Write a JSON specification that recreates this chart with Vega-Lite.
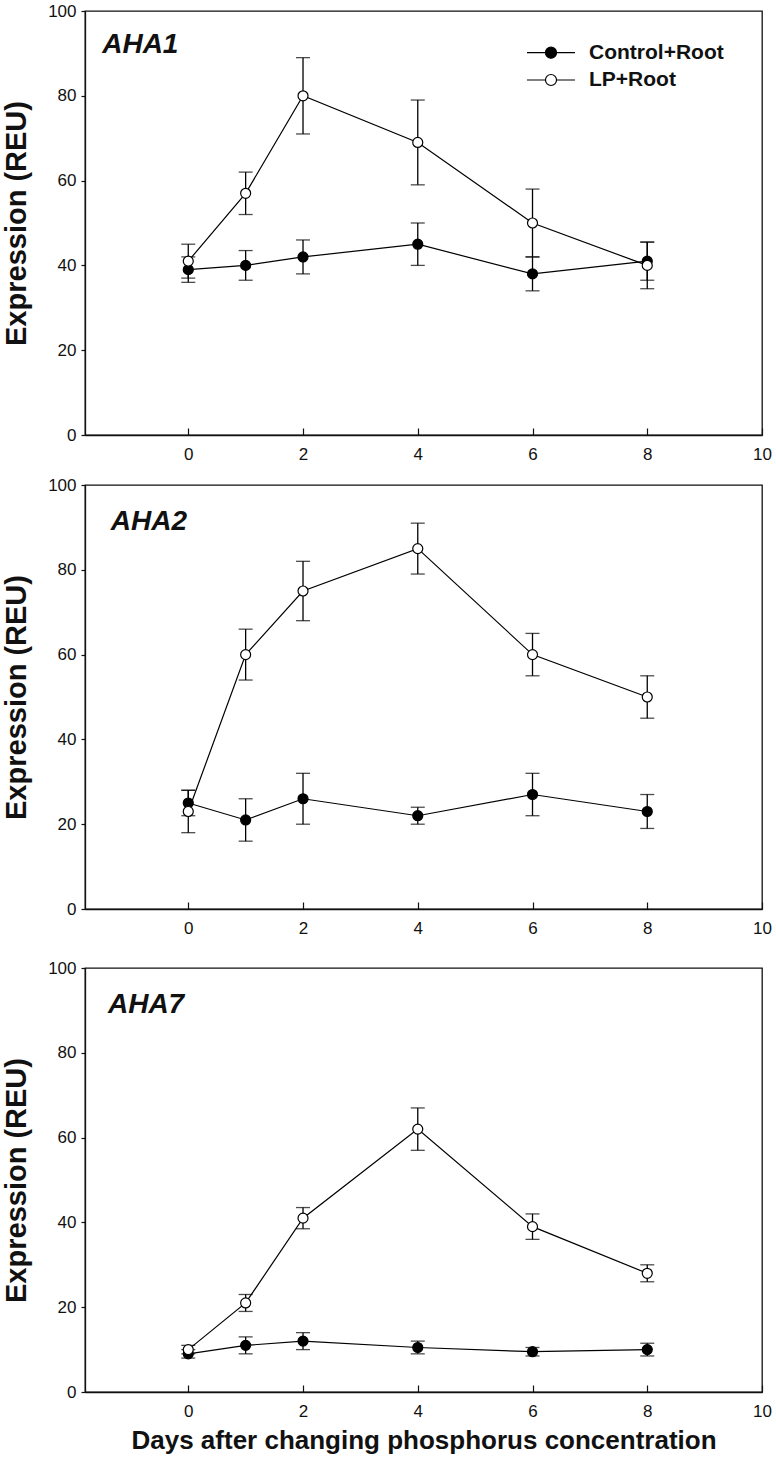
{
  "$schema": "https://vega.github.io/schema/vega-lite/v6.json",
  "padding": {"top": 1, "left": 1, "right": 0, "bottom": 0},
  "background": "white",
  "data": {
    "values": [
      {"gene": "AHA1", "group": "Control+Root", "day": 0, "mean": 39, "se": 3},
      {"gene": "AHA1", "group": "Control+Root", "day": 1, "mean": 40, "se": 3.5},
      {"gene": "AHA1", "group": "Control+Root", "day": 2, "mean": 42, "se": 4},
      {"gene": "AHA1", "group": "Control+Root", "day": 4, "mean": 45, "se": 5},
      {"gene": "AHA1", "group": "Control+Root", "day": 6, "mean": 38, "se": 4},
      {"gene": "AHA1", "group": "Control+Root", "day": 8, "mean": 41, "se": 4.5},
      {"gene": "AHA2", "group": "Control+Root", "day": 0, "mean": 25, "se": 3},
      {"gene": "AHA2", "group": "Control+Root", "day": 1, "mean": 21, "se": 5},
      {"gene": "AHA2", "group": "Control+Root", "day": 2, "mean": 26, "se": 6},
      {"gene": "AHA2", "group": "Control+Root", "day": 4, "mean": 22, "se": 2},
      {"gene": "AHA2", "group": "Control+Root", "day": 6, "mean": 27, "se": 5},
      {"gene": "AHA2", "group": "Control+Root", "day": 8, "mean": 23, "se": 4},
      {"gene": "AHA7", "group": "Control+Root", "day": 0, "mean": 9, "se": 1},
      {"gene": "AHA7", "group": "Control+Root", "day": 1, "mean": 11, "se": 2},
      {"gene": "AHA7", "group": "Control+Root", "day": 2, "mean": 12, "se": 2},
      {"gene": "AHA7", "group": "Control+Root", "day": 4, "mean": 10.5, "se": 1.5},
      {"gene": "AHA7", "group": "Control+Root", "day": 6, "mean": 9.5, "se": 1},
      {"gene": "AHA7", "group": "Control+Root", "day": 8, "mean": 10, "se": 1.5},
      {"gene": "AHA1", "group": "LP+Root", "day": 0, "mean": 41, "se": 4},
      {"gene": "AHA1", "group": "LP+Root", "day": 1, "mean": 57, "se": 5},
      {"gene": "AHA1", "group": "LP+Root", "day": 2, "mean": 80, "se": 9},
      {"gene": "AHA1", "group": "LP+Root", "day": 4, "mean": 69, "se": 10},
      {"gene": "AHA1", "group": "LP+Root", "day": 6, "mean": 50, "se": 8},
      {"gene": "AHA1", "group": "LP+Root", "day": 8, "mean": 40, "se": 5.5},
      {"gene": "AHA2", "group": "LP+Root", "day": 0, "mean": 23, "se": 5},
      {"gene": "AHA2", "group": "LP+Root", "day": 1, "mean": 60, "se": 6},
      {"gene": "AHA2", "group": "LP+Root", "day": 2, "mean": 75, "se": 7},
      {"gene": "AHA2", "group": "LP+Root", "day": 4, "mean": 85, "se": 6},
      {"gene": "AHA2", "group": "LP+Root", "day": 6, "mean": 60, "se": 5},
      {"gene": "AHA2", "group": "LP+Root", "day": 8, "mean": 50, "se": 5},
      {"gene": "AHA7", "group": "LP+Root", "day": 0, "mean": 10, "se": 1},
      {"gene": "AHA7", "group": "LP+Root", "day": 1, "mean": 21, "se": 2},
      {"gene": "AHA7", "group": "LP+Root", "day": 2, "mean": 41, "se": 2.5},
      {"gene": "AHA7", "group": "LP+Root", "day": 4, "mean": 62, "se": 5},
      {"gene": "AHA7", "group": "LP+Root", "day": 6, "mean": 39, "se": 3},
      {"gene": "AHA7", "group": "LP+Root", "day": 8, "mean": 28, "se": 2}
    ]
  },
  "spacing": 21,
  "resolve": {"legend": {"fill": "independent"}, "scale": {"fill": "independent"}},
  "vconcat": [
    {
      "spacing": 12,
      "resolve": {"legend": {"fill": "independent"}, "scale": {"fill": "independent"}},
      "vconcat": [
        {
          "width": 677,
          "height": 424,
          "layer": [
            {
              "transform": [{"filter": "datum.gene === 'AHA1'"}],
              "mark": {"type": "line", "color": "black", "strokeWidth": 1.2},
              "encoding": {
                "x": {"field": "day", "type": "quantitative", "scale": {"domain": [-1.8, 10], "nice": false, "zero": false}, "axis": {"title": null, "format": "d", "values": [0, 2, 4, 6, 8, 10]}},
                "y": {"field": "mean", "type": "quantitative", "scale": {"domain": [0, 100], "nice": false}, "axis": {"title": "Expression (REU)", "format": "d", "values": [0, 20, 40, 60, 80, 100]}},
                "detail": {"field": "group"}
              }
            },
            {
              "transform": [{"filter": "datum.gene === 'AHA1'"}],
              "mark": {"type": "errorbar", "ticks": {"size": 14, "thickness": 1.3, "color": "black"}, "rule": {"strokeWidth": 1.3, "color": "black"}},
              "encoding": {
                "x": {"field": "day", "type": "quantitative", "axis": {"title": null, "format": "d"}},
                "y": {"field": "mean", "type": "quantitative", "axis": {"title": "Expression (REU)", "format": "d"}},
                "yError": {"field": "se"}
              }
            },
            {
              "transform": [{"filter": "datum.gene === 'AHA1'"}],
              "mark": {"type": "point", "shape": "circle", "filled": true, "size": 100, "stroke": "black", "strokeWidth": 1.2, "opacity": 1},
              "encoding": {
                "x": {"field": "day", "type": "quantitative", "axis": {"title": null, "format": "d"}},
                "y": {"field": "mean", "type": "quantitative", "axis": {"title": "Expression (REU)", "format": "d"}},
                "fill": {
                  "field": "group", "type": "nominal",
                  "scale": {"domain": ["Control+Root", "LP+Root"], "range": ["black", "white"]},
                  "legend": {
                    "title": null, "orient": "none", "legendX": 453, "legendY": 28.7, "padding": 0,
                    "symbolType": "M-2,0L-0.46,0M0.46,0L2,0M-0.46,0A0.46,0.46,0,1,1,0.46,0A0.46,0.46,0,1,1,-0.46,0Z",
                    "symbolSize": 576, "symbolStrokeWidth": 1.2, "symbolStrokeColor": "black",
                    "labelFont": "Liberation Sans", "labelFontSize": 21, "labelFontWeight": "bold", "labelColor": "#111",
                    "labelOffset": 25, "rowPadding": 4.3
                  }
                }
              }
            },
            {
              "data": {"values": [{"label": "AHA1"}]},
              "mark": {"type": "text", "align": "left", "baseline": "alphabetic", "font": "Liberation Sans", "fontSize": 28, "fontWeight": "bold", "fontStyle": "italic", "color": "#111"},
              "encoding": {"x": {"datum": -1.5}, "y": {"datum": 90}, "text": {"field": "label"}}
            }
          ]
        },
        {
          "width": 677,
          "height": 424,
          "layer": [
            {
              "transform": [{"filter": "datum.gene === 'AHA2'"}],
              "mark": {"type": "line", "color": "black", "strokeWidth": 1.2},
              "encoding": {
                "x": {"field": "day", "type": "quantitative", "scale": {"domain": [-1.8, 10], "nice": false, "zero": false}, "axis": {"title": null, "format": "d", "values": [0, 2, 4, 6, 8, 10]}},
                "y": {"field": "mean", "type": "quantitative", "scale": {"domain": [0, 100], "nice": false}, "axis": {"title": "Expression (REU)", "format": "d", "values": [0, 20, 40, 60, 80, 100]}},
                "detail": {"field": "group"}
              }
            },
            {
              "transform": [{"filter": "datum.gene === 'AHA2'"}],
              "mark": {"type": "errorbar", "ticks": {"size": 14, "thickness": 1.3, "color": "black"}, "rule": {"strokeWidth": 1.3, "color": "black"}},
              "encoding": {
                "x": {"field": "day", "type": "quantitative", "axis": {"title": null, "format": "d"}},
                "y": {"field": "mean", "type": "quantitative", "axis": {"title": "Expression (REU)", "format": "d"}},
                "yError": {"field": "se"}
              }
            },
            {
              "transform": [{"filter": "datum.gene === 'AHA2'"}],
              "mark": {"type": "point", "shape": "circle", "filled": true, "size": 100, "stroke": "black", "strokeWidth": 1.2, "opacity": 1},
              "encoding": {
                "x": {"field": "day", "type": "quantitative", "axis": {"title": null, "format": "d"}},
                "y": {"field": "mean", "type": "quantitative", "axis": {"title": "Expression (REU)", "format": "d"}},
                "fill": {"field": "group", "type": "nominal", "scale": {"domain": ["Control+Root", "LP+Root"], "range": ["black", "white"]}, "legend": null}
              }
            },
            {
              "data": {"values": [{"label": "AHA2"}]},
              "mark": {"type": "text", "align": "left", "baseline": "alphabetic", "font": "Liberation Sans", "fontSize": 28, "fontWeight": "bold", "fontStyle": "italic", "color": "#111"},
              "encoding": {"x": {"datum": -1.35}, "y": {"datum": 89.3}, "text": {"field": "label"}}
            }
          ]
        }
      ]
    },
    {
      "width": 677,
      "height": 424,
      "layer": [
        {
          "transform": [{"filter": "datum.gene === 'AHA7'"}],
          "mark": {"type": "line", "color": "black", "strokeWidth": 1.2},
          "encoding": {
            "x": {"field": "day", "type": "quantitative", "scale": {"domain": [-1.8, 10], "nice": false, "zero": false}, "axis": {"title": "Days after changing phosphorus concentration", "format": "d", "values": [0, 2, 4, 6, 8, 10]}},
            "y": {"field": "mean", "type": "quantitative", "scale": {"domain": [0, 100], "nice": false}, "axis": {"title": "Expression (REU)", "format": "d", "values": [0, 20, 40, 60, 80, 100]}},
            "detail": {"field": "group"}
          }
        },
        {
          "transform": [{"filter": "datum.gene === 'AHA7'"}],
          "mark": {"type": "errorbar", "ticks": {"size": 14, "thickness": 1.3, "color": "black"}, "rule": {"strokeWidth": 1.3, "color": "black"}},
          "encoding": {
            "x": {"field": "day", "type": "quantitative", "axis": {"title": "Days after changing phosphorus concentration", "format": "d"}},
            "y": {"field": "mean", "type": "quantitative", "axis": {"title": "Expression (REU)", "format": "d"}},
            "yError": {"field": "se"}
          }
        },
        {
          "transform": [{"filter": "datum.gene === 'AHA7'"}],
          "mark": {"type": "point", "shape": "circle", "filled": true, "size": 100, "stroke": "black", "strokeWidth": 1.2, "opacity": 1},
          "encoding": {
            "x": {"field": "day", "type": "quantitative", "axis": {"title": "Days after changing phosphorus concentration", "format": "d"}},
            "y": {"field": "mean", "type": "quantitative", "axis": {"title": "Expression (REU)", "format": "d"}},
            "fill": {"field": "group", "type": "nominal", "scale": {"domain": ["Control+Root", "LP+Root"], "range": ["black", "white"]}, "legend": null}
          }
        },
        {
          "data": {"values": [{"label": "AHA7"}]},
          "mark": {"type": "text", "align": "left", "baseline": "alphabetic", "font": "Liberation Sans", "fontSize": 28, "fontWeight": "bold", "fontStyle": "italic", "color": "#111"},
          "encoding": {"x": {"datum": -1.4}, "y": {"datum": 89.3}, "text": {"field": "label"}}
        }
      ]
    }
  ],
  "config": {
    "view": {"stroke": "#111", "strokeWidth": 1.3},
    "axis": {
      "grid": false,
      "domainColor": "#111", "domainWidth": 1.3,
      "tickColor": "#111", "tickWidth": 1.2,
      "labelFont": "Liberation Sans", "labelFontSize": 17, "labelColor": "#111",
      "titleFont": "Liberation Sans", "titleFontWeight": "bold", "titleColor": "#111"
    },
    "axisX": {"tickSize": -7, "labelPadding": 18, "labelFlush": false, "titleFontSize": 26, "titlePadding": 8},
    "axisY": {"tickSize": 4, "labelPadding": 5, "titleFontSize": 29, "titlePadding": 16}
  }
}
